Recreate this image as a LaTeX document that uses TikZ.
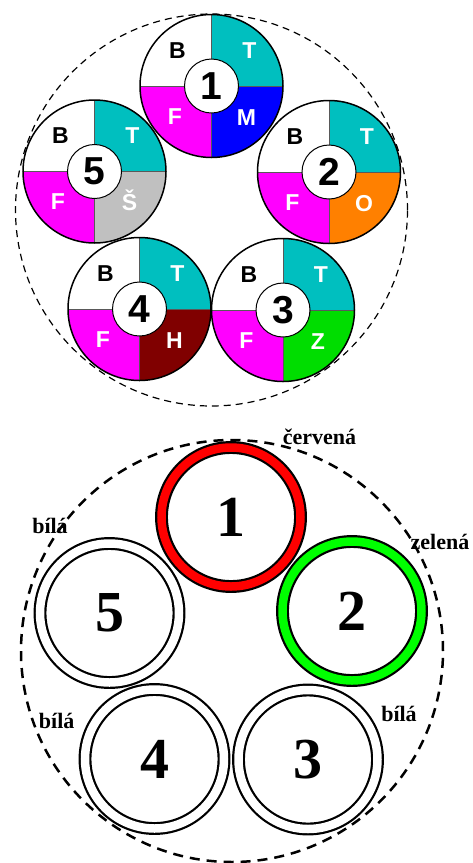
\documentclass[tikz,border=0pt]{standalone}
\usepackage{fontspec}
\setmainfont{Liberation Serif}
\setsansfont{Liberation Sans}
\definecolor{cT}{RGB}{0,191,191}
\definecolor{cF}{RGB}{255,0,255}
\definecolor{cM}{RGB}{0,0,255}
\definecolor{cO}{RGB}{255,128,0}
\definecolor{cZ}{RGB}{0,221,0}
\definecolor{cH}{RGB}{128,0,0}
\definecolor{cS}{RGB}{192,192,192}
\definecolor{ringred}{RGB}{255,0,0}
\definecolor{ringgreen}{RGB}{0,255,0}
\tikzset{
  divider/.style={line width=0.8pt, black!65},
  outerring/.style={line width=1.5pt, black},
  hub/.style={circle, fill=white, draw=black, line width=1pt, minimum size=54pt, inner sep=0pt,
    font=\sffamily\bfseries\fontsize{39}{39}\selectfont},
  qlab/.style={anchor=base, inner sep=0pt, font=\sffamily\bfseries\fontsize{23}{23}\selectfont},
  topdash/.style={line width=1.2pt, dash pattern=on 7pt off 5pt},
  botdash/.style={line width=2.5pt, dash pattern=on 10pt off 7pt},
  wire/.style={circle, draw=black, line width=2.2pt, double distance=8.5pt, minimum size=139pt, inner sep=0pt,
    font=\rmfamily\bfseries\fontsize{58}{58}\selectfont},
  clab/.style={anchor=base, inner sep=0pt, font=\rmfamily\bfseries\fontsize{22}{22}\selectfont}
}
\newcommand\topcable[6]{%
\begin{scope}[shift={(#2,-#3)}]
 \fill[cT] (0,0) -- (0:71.5) arc[start angle=0,end angle=90,radius=71.5] -- cycle;
 \fill[cF] (0,0) -- (180:71.5) arc[start angle=180,end angle=270,radius=71.5] -- cycle;
 \fill[#5] (0,0) -- (270:71.5) arc[start angle=270,end angle=360,radius=71.5] -- cycle;
 \draw[divider] (-71.5,0) -- (71.5,0) (0,71.5) -- (0,-71.5);
 \draw[outerring] (0,0) circle[radius=71.5];
 \node[hub] (#1) at (0,0) {#4};
 \node[qlab, text=black] (#1b) at (-34,28) {B};
 \node[qlab, text=white] (#1t) at (38,28) {T};
 \node[qlab, text=white] (#1f) at (-36.5,-38) {F};
 \node[qlab, text=white] (#1x) at (35,-39) {#6};
\end{scope}}
\begin{document}
\begin{tikzpicture}[x=1pt,y=1pt]
\useasboundingbox (0,0) rectangle (472,-863);
\fill[white] (0,0) rectangle (472,-863);
% top diagram
\topcable{ta}{211.5}{86}{1}{cM}{M}
\topcable{tb}{329}{172}{2}{cO}{O}
\topcable{tc}{283}{310}{3}{cZ}{Z}
\topcable{td}{139.5}{309}{4}{cH}{H}
\topcable{te}{94.5}{171.5}{5}{cS}{Š}
\coordinate (topc) at (211.5,-210);
\draw[topdash] (topc) circle[radius=196];
% bottom diagram
\coordinate (botc) at (232,-651);
\draw[botdash] (botc) circle[radius=211];
\node[wire, double=ringred] (b1) at (231,-517) {1};
\node[wire, double=ringgreen] (b2) at (352,-611) {2};
\node[wire, double=white] (b3) at (308,-759.5) {3};
\node[wire, double=white] (b4) at (154.5,-759) {4};
\node[wire, double=white] (b5) at (109.5,-613) {5};
\node[clab] (l1) at (319.5,-444.3) {červená};
\node[clab] (l2) at (440,-549) {zelená};
\node[clab] (l3) at (399,-721.7) {bílá};
\node[clab] (l4) at (56.7,-728.3) {bílá};
\node[clab] (l5) at (50,-533.3) {bílá};
\end{tikzpicture}
\end{document}
